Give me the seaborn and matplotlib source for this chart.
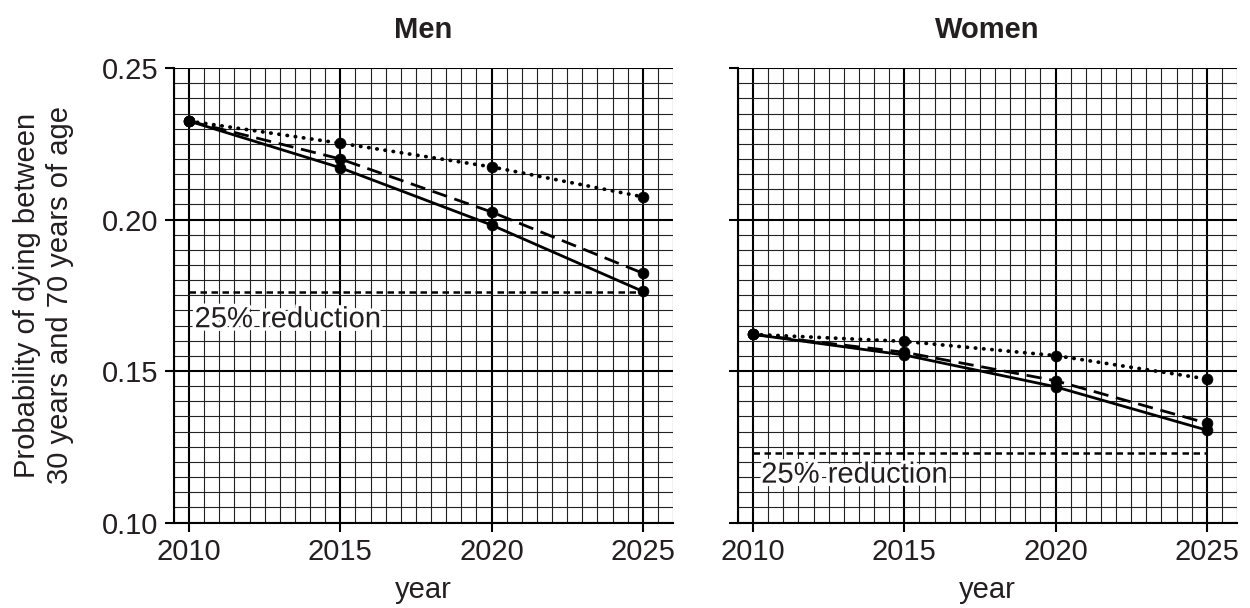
import pandas as pd
import matplotlib.pyplot as plt
import matplotlib.patheffects as pe
from matplotlib.ticker import MultipleLocator
import seaborn as sns

# values
years = [2010, 2015, 2020, 2025]
men_solid = [0.2325, 0.2171, 0.1982, 0.1763]
men_dashed = [0.2325, 0.2200, 0.2025, 0.1823]
men_dotted = [0.2325, 0.2252, 0.2174, 0.2075]
men_target = 0.1760
women_solid = [0.1621, 0.1553, 0.1448, 0.1305]
women_dashed = [0.1621, 0.1562, 0.1468, 0.1328]
women_dotted = [0.1621, 0.1598, 0.1551, 0.1474]
women_target = 0.1231
target_years = [2010, 2025]
panels = ["Men", "Women"]
ytick_vals = [0.10, 0.15, 0.20, 0.25]
ytick_labels = ["0.10", "0.15", "0.20", "0.25"]
reduction_label = "25% reduction"
ylabel = "Probability of dying between\n30 years and 70 years of age"

rows = []
for panel, series in [("Men", [("solid", men_solid), ("dashed", men_dashed), ("dotted", men_dotted)]),
                      ("Women", [("solid", women_solid), ("dashed", women_dashed), ("dotted", women_dotted)])]:
    for name, vals in series:
        for y, v in zip(years, vals):
            rows.append({"panel": panel, "series": name, "year": y, "prob": v})
df = pd.DataFrame(rows)
targets = {"Men": men_target, "Women": women_target}
text_pos = {"Men": (2010.18, 0.1671), "Women": (2010.27, 0.1158)}

sns.set_style("white")
plt.rcParams["font.family"] = ["Liberation Sans", "DejaVu Sans"]
ink = "#231f20"

fig, axes = plt.subplots(1, 2, figsize=(12.5, 6.08), dpi=100, sharey=True)
fig.subplots_adjust(left=0.1392, right=0.9896, bottom=0.1406, top=0.888, wspace=0.13)

line_styles = {
    "solid": dict(linestyle="-"),
    "dashed": dict(linestyle=(0, (5.5, 2.8))),
    "dotted": dict(linestyle=(0, (0.1, 2.1)), dash_capstyle="round", linewidth=2.7),
}

for ax, panel in zip(axes, panels):
    sub = df[df["panel"] == panel]
    for name, kw in line_styles.items():
        d = sub[sub["series"] == name]
        opts = dict(linewidth=2.0)
        opts.update(kw)
        sns.lineplot(data=d, x="year", y="prob", ax=ax, color="black", marker="o",
                     markersize=7.8, markeredgecolor="black", markeredgewidth=0.5,
                     zorder=5, **opts)
    t = targets[panel]
    sns.lineplot(x=target_years, y=[t, t], ax=ax, color="black", linewidth=1.8,
                 linestyle=(0, (2.6, 1.8)), zorder=4)
    tx, ty = text_pos[panel]
    ax.text(tx, ty, reduction_label, fontsize=21, color=ink, ha="left", va="center", zorder=6,
            path_effects=[pe.withStroke(linewidth=5, foreground="white")])

    ax.set_xlim(2009.5, 2026)
    ax.set_ylim(0.10, 0.25)
    ax.set_xticks(years)
    ax.set_xticklabels([str(y) for y in years])
    ax.set_yticks(ytick_vals)
    ax.set_yticklabels(ytick_labels)
    ax.xaxis.set_minor_locator(MultipleLocator(0.5))
    ax.yaxis.set_minor_locator(MultipleLocator(0.005))
    ax.grid(which="major", color="black", linewidth=1.5, zorder=0)
    ax.grid(which="minor", color="#222222", linewidth=0.8, zorder=0)
    ax.set_axisbelow(True)
    ax.tick_params(which="major", direction="out", length=6.5, width=1.5, color="black",
                   labelsize=21, labelcolor=ink, pad=5, left=True, bottom=True)
    ax.tick_params(which="minor", length=0)
    for side in ["top", "right"]:
        ax.spines[side].set_visible(False)
    for side in ["left", "bottom"]:
        ax.spines[side].set_linewidth(1.5)
        ax.spines[side].set_color("black")
    ax.set_title(panel, fontsize=21, fontweight="bold", color=ink, pad=22)
    ax.set_xlabel("year", fontsize=21, color=ink, labelpad=7)
    ax.set_ylabel("")

axes[0].set_ylabel(ylabel, fontsize=21, color=ink, labelpad=20)
axes[1].tick_params(labelleft=False)

fig.savefig("out.png", dpi=100)
